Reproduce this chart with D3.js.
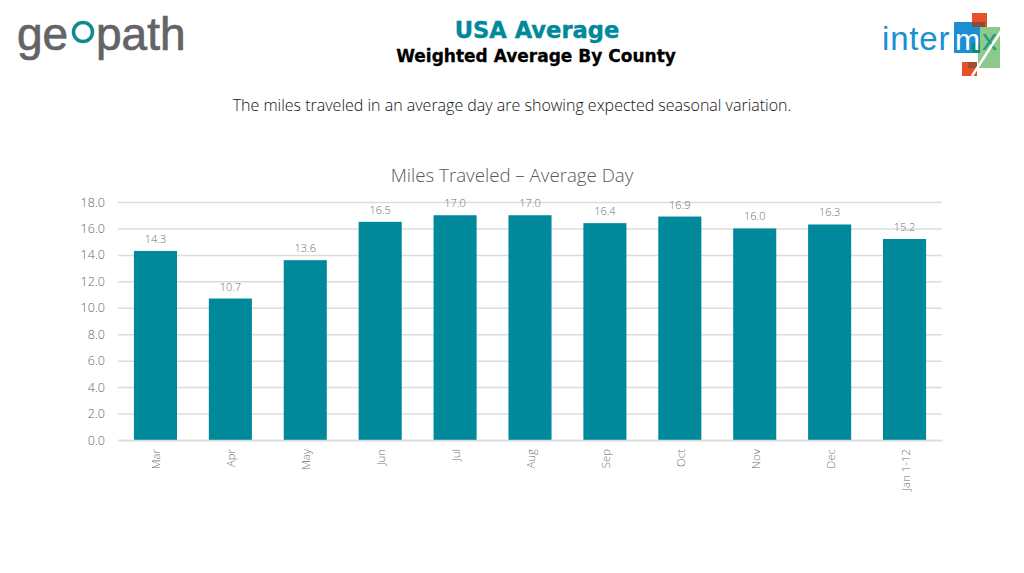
<!DOCTYPE html>
<html>
<head>
<meta charset="utf-8">
<script src="https://cdn.jsdelivr.net/npm/d3@7"></script>
<style>
  html, body { margin: 0; padding: 0; background: #fff; }
  text { font-family: "Open Sans", sans-serif; }
  text.head { font-family: "DejaVu Sans", sans-serif; }
  text.logo { font-family: "Liberation Sans", sans-serif; }
</style>
</head>
<body>
<div id="chart"></div>
<script>
const months = ["Mar", "Apr", "May", "Jun", "Jul", "Aug", "Sep", "Oct", "Nov", "Dec", "Jan 1-12"];
const miles = [14.3, 10.7, 13.6, 16.5, 17.0, 17.0, 16.4, 16.9, 16.0, 16.3, 15.2];
const yTicks = [0, 2, 4, 6, 8, 10, 12, 14, 16, 18];

const width = 1024, height = 573;
const margin = {top: 202, right: 82, bottom: 133, left: 118};
const innerW = width - margin.left - margin.right;
const innerH = height - margin.top - margin.bottom;

const svg = d3.select("#chart").append("svg")
    .attr("width", width)
    .attr("height", height)
    .style("display", "block");

// headings
svg.append("text")
    .attr("class", "head")
    .attr("x", 537).attr("y", 38)
    .attr("text-anchor", "middle")
    .attr("font-size", 22.6).attr("font-weight", 700)
    .attr("fill", "#00889b").attr("stroke", "#00889b").attr("stroke-width", 0.4)
    .text("USA Average");

svg.append("text")
    .attr("class", "head")
    .attr("x", 536).attr("y", 62)
    .attr("text-anchor", "middle")
    .attr("font-size", 17).attr("font-weight", 700)
    .attr("fill", "#000").attr("stroke", "#000").attr("stroke-width", 0.3)
    .text("Weighted Average By County");

svg.append("text")
    .attr("x", 512).attr("y", 111)
    .attr("text-anchor", "middle")
    .attr("font-size", 16).attr("font-weight", 300)
    .attr("fill", "#111")
    .text("The miles traveled in an average day are showing expected seasonal variation.");

svg.append("text")
    .attr("x", 512).attr("y", 182)
    .attr("text-anchor", "middle")
    .attr("font-size", 18.7).attr("font-weight", 300)
    .attr("fill", "#595959")
    .text("Miles Traveled – Average Day");

// geopath logo
const geo = svg.append("g").attr("fill", "#636466").attr("stroke", "#636466").attr("stroke-width", 0.7);
geo.append("text").attr("class", "logo").attr("x", 17).attr("y", 50).attr("font-size", 46).text("ge");
geo.append("text").attr("class", "logo").attr("x", 96).attr("y", 50).attr("font-size", 46).text("path");
svg.append("circle")
    .attr("cx", 83).attr("cy", 32).attr("r", 9.5)
    .attr("fill", "none").attr("stroke", "#0e8a96").attr("stroke-width", 3.5);

// intermx logo
const logo = svg.append("g");
logo.append("rect").attr("x", 972).attr("y", 13).attr("width", 15).attr("height", 14).attr("fill", "#e8502a");
logo.append("rect").attr("x", 962).attr("y", 62).attr("width", 15).attr("height", 14).attr("fill", "#e8502a");
logo.append("rect").attr("x", 978).attr("y", 27).attr("width", 22).attr("height", 41).attr("fill", "#8cc98a");
logo.append("rect").attr("x", 968).attr("y", 62).attr("width", 9).attr("height", 6).attr("fill", "#a0512f");
logo.append("rect").attr("x", 954).attr("y", 22).attr("width", 26).attr("height", 31).attr("fill", "#1b8fd2");
logo.append("rect").attr("x", 972).attr("y", 22).attr("width", 13).attr("height", 5).attr("fill", "#8a4a3c");
logo.append("rect").attr("x", 972).attr("y", 43).attr("width", 8).attr("height", 10).attr("fill", "#0b8a7c");
logo.append("text").attr("class", "logo").attr("x", 882).attr("y", 50)
    .attr("font-size", 33).attr("letter-spacing", 0.8).attr("fill", "#1b8fd2")
    .text("inter");
logo.append("text").attr("class", "logo").attr("x", 955).attr("y", 50)
    .attr("font-size", 30).attr("fill", "#fff")
    .text("m");
logo.append("text").attr("class", "logo").attr("x", 982).attr("y", 50)
    .attr("font-size", 30).attr("fill", "#1e9a86")
    .text("x");
logo.append("line").attr("x1", 1005).attr("y1", 25).attr("x2", 972).attr("y2", 76)
    .attr("stroke", "#fff").attr("stroke-width", 2.5);

// chart
const g = svg.append("g").attr("transform", `translate(${margin.left},${margin.top})`);

const x = d3.scaleBand().domain(months).range([0, innerW]).paddingInner(0.425).paddingOuter(0.2125);
const y = d3.scaleLinear().domain([0, 18]).range([innerH, 0]);

const yAxis = g.append("g")
    .call(d3.axisLeft(y).tickValues(yTicks).tickSize(-innerW).tickFormat(d3.format(".1f")));
yAxis.select(".domain").remove();
yAxis.selectAll(".tick line").attr("stroke", "#dcdcdc").attr("stroke-width", 1.5);
yAxis.selectAll(".tick text")
    .attr("x", -13)
    .attr("font-size", 12.5).attr("font-weight", 300)
    .attr("fill", "#666");

g.selectAll(".bar")
    .data(miles)
    .join("rect")
    .attr("class", "bar")
    .attr("x", (d, i) => x(months[i]))
    .attr("y", d => y(d))
    .attr("width", x.bandwidth())
    .attr("height", d => innerH - y(d))
    .attr("fill", "#00889b");

g.selectAll(".value")
    .data(miles)
    .join("text")
    .attr("class", "value")
    .attr("x", (d, i) => x(months[i]) + x.bandwidth() / 2)
    .attr("y", d => y(d) - 8)
    .attr("text-anchor", "middle")
    .attr("font-size", 11).attr("font-weight", 300)
    .attr("fill", "#707070")
    .text(d => d.toFixed(1));

const xAxis = g.append("g")
    .attr("transform", `translate(0,${innerH})`)
    .call(d3.axisBottom(x).tickSize(0));
xAxis.select(".domain").attr("stroke", "#dcdcdc").attr("stroke-width", 1.5);
xAxis.selectAll(".tick text")
    .attr("transform", "rotate(-90)")
    .attr("x", -9).attr("y", 1).attr("dy", "0.35em")
    .attr("text-anchor", "end")
    .attr("font-size", 11.4).attr("font-weight", 300)
    .attr("fill", "#707070");
</script>
</body>
</html>
